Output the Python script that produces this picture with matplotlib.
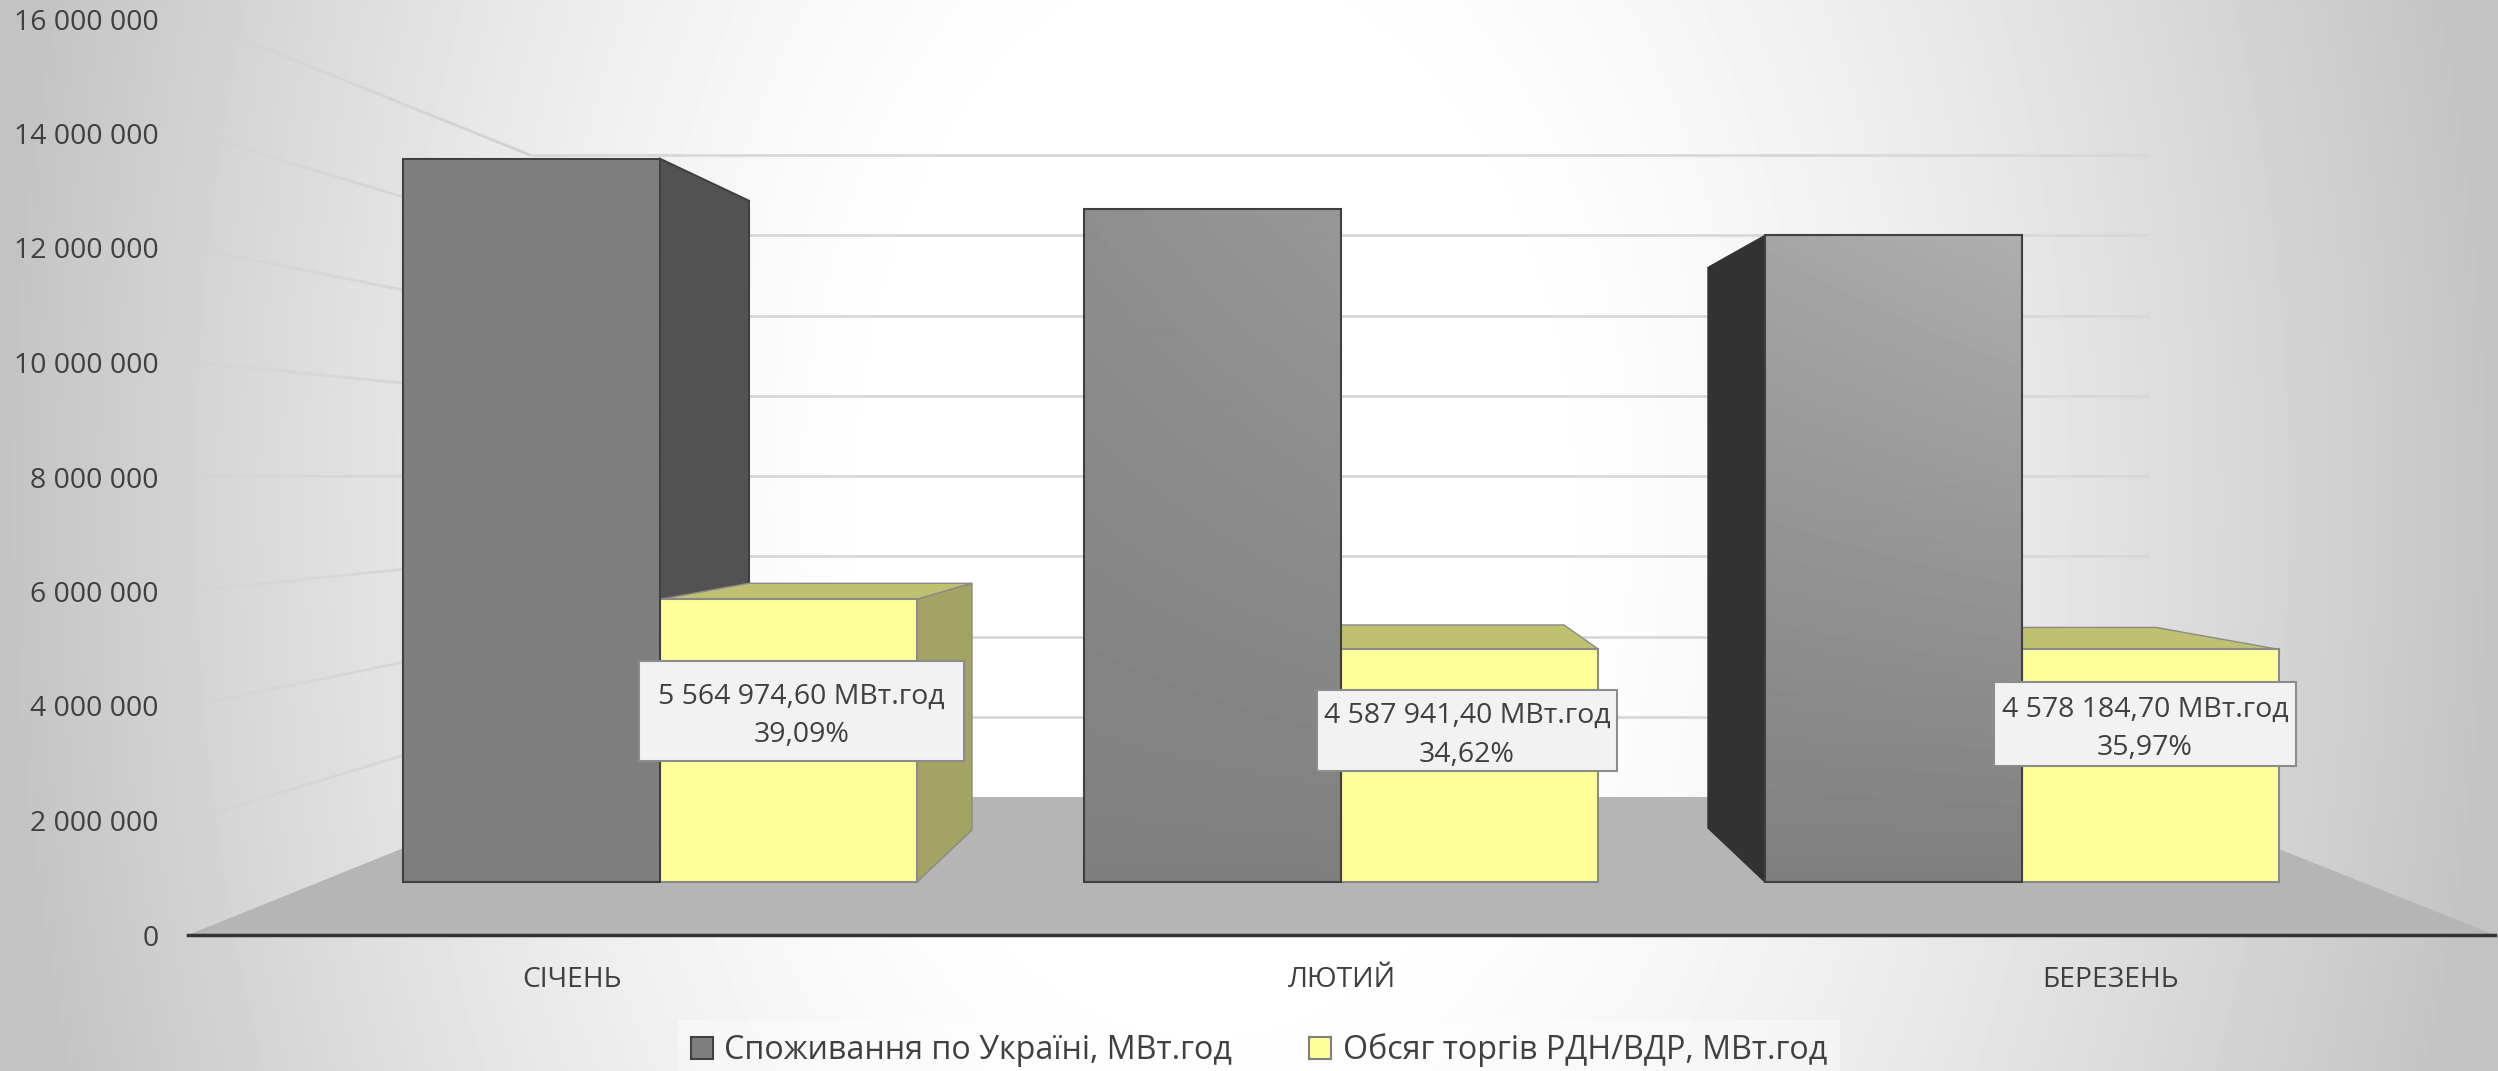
import matplotlib
matplotlib.use('Agg')
import matplotlib.pyplot as plt
from matplotlib.patches import Patch, Polygon, Rectangle
from matplotlib.ticker import FuncFormatter
import numpy as np

plt.rcParams['font.family'] = ['Open Sans', 'DejaVu Sans']

# Data
months = ['СІЧЕНЬ', 'ЛЮТИЙ', 'БЕРЕЗЕНЬ']
consumption = [14236312, 13252286, 12727786]
trades = [5564974.60, 4587941.40, 4578184.70]
shares = ['39,09%', '34,62%', '35,97%']
yTicks = [0, 2000000, 4000000, 6000000, 8000000, 10000000, 12000000, 14000000, 16000000]
seriesNames = ['Споживання по Україні, МВт.год', 'Обсяг торгів РДН/ВДР, МВт.год']

W, H = 2498, 1071
textColor = '#404040'
fig = plt.figure(figsize=(W / 100, H / 100), dpi=100)


def axes_px(left, top, right, bottom, z):
    a = fig.add_axes([left / W, 1 - bottom / H, (right - left) / W, (bottom - top) / H], zorder=z)
    a.patch.set_alpha(0)
    return a


# Pixel layer for background, floor, walls and the 3D sides
bg = axes_px(0, 0, W, H, 0)
bg.set_xlim(0, W)
bg.set_ylim(H, 0)
bg.axis('off')

xx, yy = np.meshgrid(np.arange(W), np.arange(H))
rx = np.where(xx < 1200, (1200 - xx) / 1200, (xx - 1200) / 1300)
ry = (yy - 500) / 560
r = np.sqrt(rx ** 2 + (0.3 * ry) ** 2)
shade = 255 - 60 * np.clip((r - 0.25) / 0.75, 0, 1) ** 1.38
bg.imshow(shade, cmap='gray', vmin=0, vmax=255, extent=(0, W, H, 0), aspect='auto', zorder=0)
bg.set_xlim(0, W)
bg.set_ylim(H, 0)

floorY = 797
baseY = 935
bg.add_patch(Polygon([(188, baseY), (530, floorY), (2148, floorY), (2495, baseY)],
                     facecolor='#b5b5b5', edgecolor='none', zorder=1))


def back_y(v):
    return floorY - v / 16000000 * 642


def label_y(v):
    return baseY - v / 16000000 * 917


# Back wall and fading side wall gridlines
for v in yTicks[1:]:
    bg.plot([530, 2148], [back_y(v), back_y(v)], color='#d8d8d8', lw=2, zorder=0.5)
    steps = np.linspace(0, 1, 25)
    for a, b in zip(steps[:-1], steps[1:]):
        bg.plot([190 + a * 340, 190 + b * 340],
                [label_y(v) + a * (back_y(v) - label_y(v)), label_y(v) + b * (back_y(v) - label_y(v))],
                color='#cfcfcf', lw=2, alpha=0.15 + 0.85 * a, zorder=0.5, solid_capstyle='butt')

# Bars in value units, same scale for all of them
baseBar = 882
pxPerUnit = 50.8e-6
step = 681
first = 660
barW = 257


def bar_y(v):
    return baseBar - v * pxPerUnit


centers = [first + i * step for i in range(len(months))]

ax = axes_px(0, 0, W, H, 1)
x = np.arange(len(months))
xl = ((0 - first) / step, (W - first) / step)
yl = ((baseBar - H) / pxPerUnit, baseBar / pxPerUnit)
grayBars = ax.bar(x - barW / step / 2, consumption, width=barW / step, color='none', edgecolor='#404040', lw=1.5, zorder=3)
ax.bar(x + barW / step / 2, trades, width=barW / step, color='#ffff99', edgecolor='#8a8a8a', lw=1.5, zorder=2)
ax.axis('off')

# Gray gradient gets lighter towards the upper right
g = 127 + 62 * np.clip((xx - 650) / 1620, 0, 1) * np.clip((baseBar - yy) / 723, 0, 1)
for b in grayBars:
    im = ax.imshow(g, cmap='gray', vmin=0, vmax=255, aspect='auto', zorder=2.5,
                   extent=(xl[0], xl[1], yl[0], yl[1]))
    im.set_clip_path(b)
ax.set_xlim(xl)
ax.set_ylim(yl)

# 3D sides
topCol = '#bfc070'
sideCol = '#a3a363'
c = centers
yt = [bar_y(v) for v in trades]
yc = [bar_y(v) for v in consumption]
bg.add_patch(Polygon([(c[0], yc[0]), (749, yc[0] + 42), (749, 620), (c[0], 620)],
                     facecolor='#525252', edgecolor='#404040', lw=1.5, zorder=2))
bg.add_patch(Polygon([(c[0], yt[0]), (749, yt[0] - 16), (972, yt[0] - 16), (c[0] + barW, yt[0])],
                     facecolor=topCol, edgecolor='#8a8a8a', lw=1, zorder=3))
bg.add_patch(Polygon([(c[0] + barW, yt[0]), (972, yt[0] - 16), (972, 830), (c[0] + barW, baseBar)],
                     facecolor=sideCol, edgecolor='#8a8a8a', lw=1, zorder=3))
bg.add_patch(Polygon([(c[1], yt[1]), (c[1] + barW, yt[1]), (1564, yt[1] - 24), (c[1], yt[1] - 24)],
                     facecolor=topCol, edgecolor='#8a8a8a', lw=1, zorder=3))
bg.add_patch(Polygon([(c[2], yt[2]), (c[2] + barW, yt[2]), (2156, yt[2] - 22), (c[2], yt[2] - 22)],
                     facecolor=topCol, edgecolor='#8a8a8a', lw=1, zorder=3))
bg.add_patch(Polygon([(c[2] - barW, yc[2]), (1708, yc[2] + 32), (1708, 828), (c[2] - barW, baseBar)],
                     facecolor='#323232', edgecolor='#323232', lw=1, zorder=3))

# Data labels
boxes = [(639, 661, 325, 100), (1317, 690, 300, 81), (1994, 682, 302, 84)]
for box, v, s in zip(boxes, trades, shares):
    ax.add_patch(Rectangle((box[0], box[1]), box[2], box[3], transform=bg.transData,
                           facecolor='#f2f2f2', edgecolor='#8c8c8c', lw=1.5, zorder=5))
    num = f'{v:,.2f}'.replace(',', ' ').replace('.', ',')
    ax.text(box[0] + box[2] / 2, box[1] + box[3] / 2 + 5, f'{num} МВт.год\n{s}', transform=bg.transData,
            ha='center', va='center', fontsize=20.5, color=textColor, zorder=6, linespacing=1.5)

# Front axis with the real tick labels
axv = axes_px(188, 19, 2495, baseY, 2)
axv.set_xlim(-0.5, 2.5)
axv.set_ylim(0, 16000000)
axv.set_xticks(x)
axv.set_xticklabels(months, fontsize=20.3, color=textColor)
axv.set_yticks(yTicks)
axv.yaxis.set_major_formatter(FuncFormatter(lambda v, p: f'{int(v):,}'.replace(',', ' ')))
axv.tick_params(axis='y', length=0, pad=21, labelsize=20.5, labelcolor=textColor)
axv.tick_params(axis='x', length=0, pad=22)
for side in ['top', 'left', 'right']:
    axv.spines[side].set_visible(False)
axv.spines['bottom'].set_color('#333333')
axv.spines['bottom'].set_linewidth(2.5)

handles = [Patch(facecolor='#7f7f7f', edgecolor='#404040', lw=1.5),
           Patch(facecolor='#ffff99', edgecolor='#7f7f7f', lw=1.5)]
axv.legend(handles, seriesNames, ncol=2, loc='center', bbox_to_anchor=(1259 / W, 1 - 1050 / H),
           bbox_transform=fig.transFigure, fontsize=23.2, labelcolor=textColor, frameon=True,
           facecolor='white', edgecolor='none', framealpha=0.4, fancybox=False,
           handlelength=0.68, handleheight=0.68, handletextpad=0.36, columnspacing=2.4)

plt.savefig('out.png', dpi=100)
